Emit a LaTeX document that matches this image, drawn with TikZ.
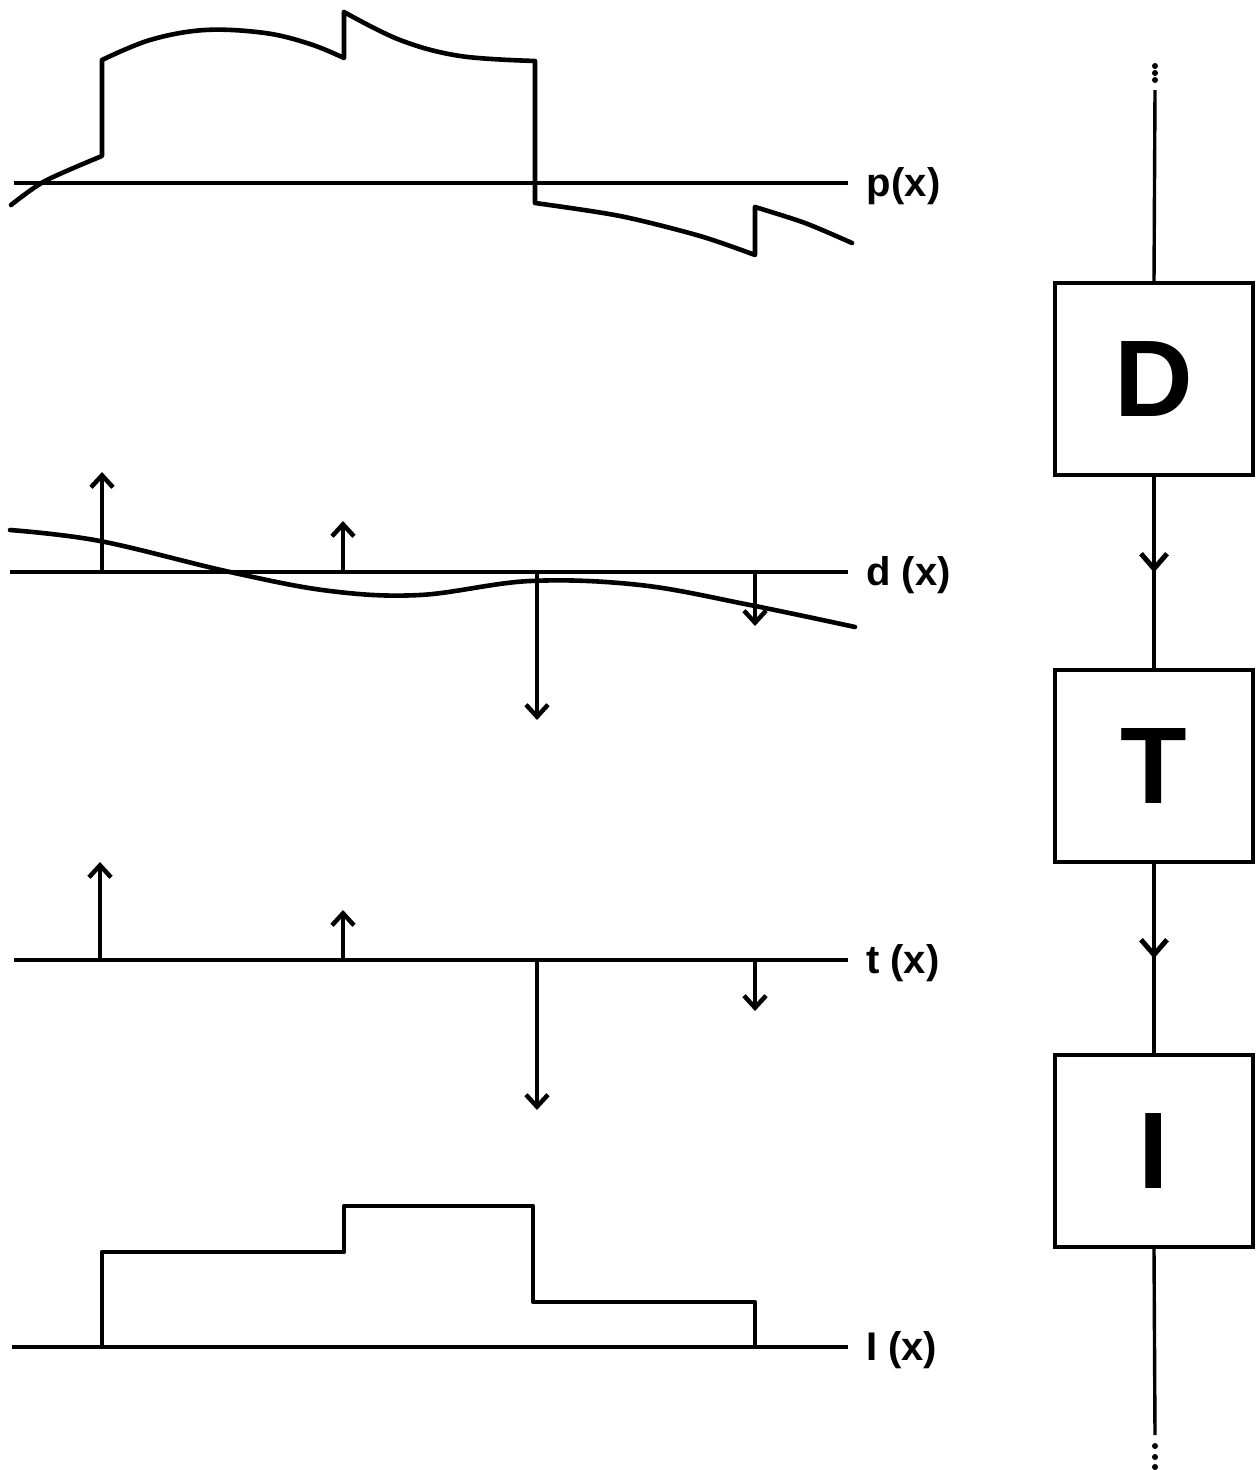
\documentclass[tikz,border=0pt]{standalone}
\usepackage{fontspec}
\setmainfont{Liberation Sans}
\usetikzlibrary{arrows.meta,decorations.markings}
\begin{document}
\begin{tikzpicture}[x=1pt,y=-1pt,
  axis/.style={line width=4pt},
  curve/.style={line width=4.6pt,line join=round,line cap=round},
  spike/.style={line width=4pt,-{Straight Barb[length=12pt,width=22pt,line width=4.5pt]}},
  lbl/.style={anchor=west,font=\fontsize{40}{42}\selectfont\bfseries,inner sep=0pt},
  blk/.style={draw,line width=3.4pt,fill=white,minimum width=198pt,minimum height=192pt,inner sep=0pt,font=\fontsize{109}{110}\selectfont\bfseries},
  flow/.style={line width=3.4pt,postaction={decorate},decoration={markings,mark=at position 0.5 with {\arrow{Straight Barb[length=15pt,width=26pt,line width=5pt]}}}},
  dots/.style={fill=black}]
\useasboundingbox (0,0) rectangle (1257,1470);

% ---------- p(x)
\coordinate (pa) at (14,183); \coordinate (pb) at (848,183);
\draw[axis] (pa) -- (pb);
\node[lbl] (pl) at (866,186) {p\kern1pt(x)};
\draw[curve] plot[smooth,tension=0.5] coordinates {(11,205) (45,181) (102,156)}
  -- (102,60)
  plot[smooth,tension=0.6] coordinates {(102,60) (150,40) (205,30) (265,33) (310,44) (344,58)}
  -- (344,12)
  plot[smooth,tension=0.6] coordinates {(344,12) (400,40) (460,56) (535,61)}
  -- (535,203)
  plot[smooth,tension=0.5] coordinates {(535,203) (620,216) (700,236) (755,255)}
  -- (755,207)
  plot[smooth,tension=0.5] coordinates {(755,207) (805,223) (852,243)};

% ---------- d(x)
\coordinate (da) at (10,572); \coordinate (db) at (848,572);
\draw[axis] (da) -- (db);
\node[lbl] (dl) at (866,575) {d (x)};
\draw[curve] plot[smooth,tension=0.6] coordinates {(10,530) (100,541) (230,572) (330,591) (420,595) (530,581) (640,585) (750,605) (855,627)};
\coordinate (d1) at (102,572); \coordinate (d1e) at (102,472);
\coordinate (d2) at (343,572); \coordinate (d2e) at (343,521);
\coordinate (d3) at (537,572); \coordinate (d3e) at (537,720);
\coordinate (d4) at (755,572); \coordinate (d4e) at (755,626);
\draw[spike] (d1) -- (d1e);
\draw[spike] (d2) -- (d2e);
\draw[spike] (d3) -- (d3e);
\draw[spike] (d4) -- (d4e);

% ---------- t(x)
\coordinate (ta) at (14,960); \coordinate (tb) at (848,960);
\draw[axis] (ta) -- (tb);
\node[lbl] (tl) at (866,963) {t (x)};
\coordinate (t1) at (100,960); \coordinate (t1e) at (100,862);
\coordinate (t2) at (343,960); \coordinate (t2e) at (343,910);
\coordinate (t3) at (537,960); \coordinate (t3e) at (537,1110);
\coordinate (t4) at (755,960); \coordinate (t4e) at (755,1011);
\draw[spike] (t1) -- (t1e);
\draw[spike] (t2) -- (t2e);
\draw[spike] (t3) -- (t3e);
\draw[spike] (t4) -- (t4e);

% ---------- I(x)
\coordinate (ia) at (12,1347); \coordinate (ib) at (848,1347);
\draw[axis] (ia) -- (ib);
\node[lbl] (il) at (866,1350) {I (x)};
\draw[curve,line cap=butt] (102,1347) -- (102,1252) -- (344,1252) -- (344,1206) -- (533,1206)
  -- (533,1302) -- (755,1302) -- (755,1347);

% ---------- block chain
\node[blk] (D) at (1154,379) {D};
\node[blk] (T) at (1154,766) {T};
\node[blk] (I) at (1154,1151) {I};
\coordinate (top) at (1155,90);
\coordinate (bot) at (1155,1435);
\draw[line width=3.4pt] (top) -- (D.north);
\draw[flow] (D.south) -- (T.north);
\draw[flow] (T.south) -- (I.north);
\draw[line width=3.4pt] (I.south) -- (bot);
\foreach \yy in {66,73,80} \fill[dots] (1155,\yy) circle (3pt);
\foreach \yy in {1446,1457,1467} \fill[dots] (1155,\yy) circle (3pt);
\end{tikzpicture}
\end{document}
